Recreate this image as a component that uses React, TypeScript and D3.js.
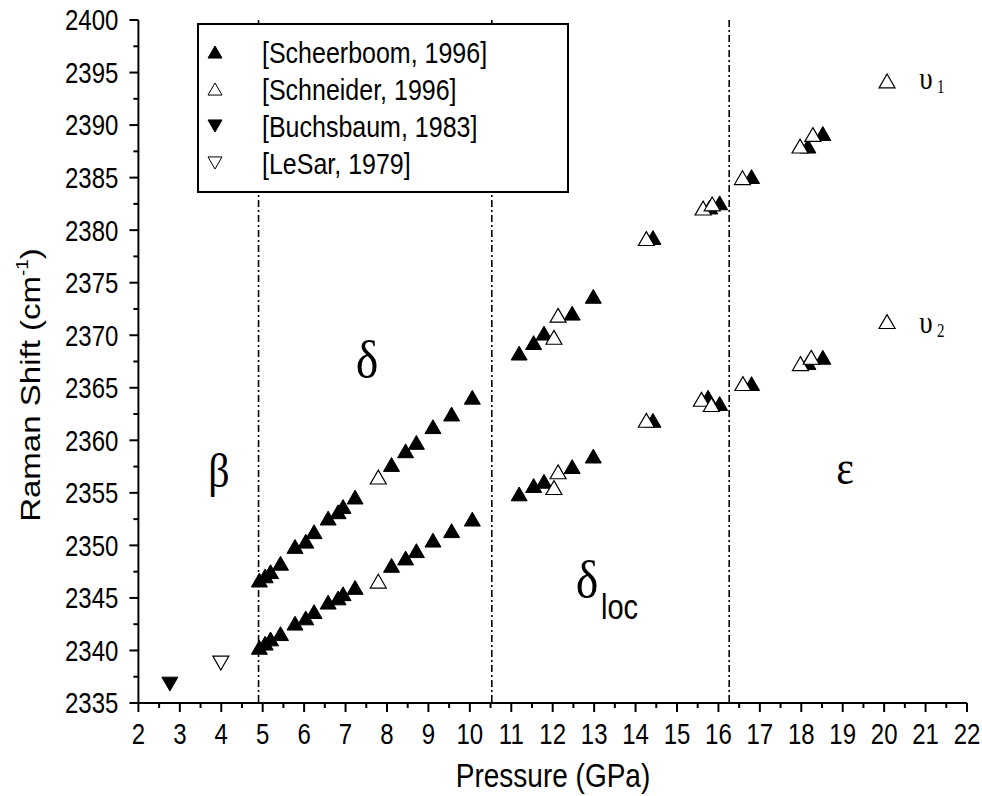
import React from "react";
import * as d3 from "d3";

// Scheerboom, 1996 (filled up-triangles)
const scheerX = [
  4.92, 5.06, 5.19, 5.43, 5.78, 6.04, 6.24, 6.58, 6.82, 6.94, 7.23, 8.11, 8.45, 8.71, 9.11, 9.56, 10.06,
  4.92, 5.06, 5.19, 5.43, 5.78, 6.04, 6.24, 6.58, 6.82, 6.94, 7.23, 8.11, 8.45, 8.71, 9.11, 9.56, 10.06,
  11.19, 11.54, 11.79, 12.47, 12.98,
  11.19, 11.54, 11.79, 12.47, 12.98,
  14.42, 15.79, 16.03, 16.8, 18.16, 18.52,
  14.42, 15.75, 16.03, 16.8, 18.16, 18.52,
];
const scheerY = [
  2346.7, 2347.1, 2347.5, 2348.3, 2349.9, 2350.4, 2351.3, 2352.6, 2353.2, 2353.7, 2354.6, 2357.7, 2359.0, 2359.8, 2361.3, 2362.5, 2364.1,
  2340.3, 2340.7, 2341.1, 2341.6, 2342.6, 2343.1, 2343.7, 2344.6, 2345.0, 2345.4, 2346.0, 2348.1, 2348.8, 2349.5, 2350.5, 2351.4, 2352.5,
  2368.3, 2369.3, 2370.2, 2372.1, 2373.7,
  2354.9, 2355.7, 2356.1, 2357.5, 2358.5,
  2379.3, 2382.2, 2382.6, 2385.1, 2388.0, 2389.2,
  2361.9, 2364.1, 2363.5, 2365.4, 2367.4, 2367.9,
];

// Schneider, 1996 (open up-triangles)
const schneiderX = [
  7.79, 7.79,
  12.03, 12.13, 12.03, 12.13,
  14.26, 15.63, 15.85, 16.58, 17.97, 18.28, 20.07,
  14.26, 15.59, 15.83, 16.59, 17.98, 18.24, 20.07,
];
const schneiderY = [
  2356.5, 2346.6,
  2369.8, 2371.9, 2355.5, 2357.0,
  2379.2, 2382.1, 2382.5, 2385.0, 2388.0, 2389.1, 2394.2,
  2361.9, 2363.9, 2363.4, 2365.4, 2367.3, 2367.9, 2371.3,
];

// Buchsbaum, 1983 (filled down-triangle)
const buchsX = [2.76];
const buchsY = [2336.8];

// LeSar, 1979 (open down-triangle)
const lesarX = [3.99];
const lesarY = [2338.8];

// phase boundaries (GPa)
const boundaries = [4.9, 10.53, 16.26];

const xTicks = d3.range(2, 23, 1);
const xMinor = d3.range(2.5, 22, 1);
const yTicks = d3.range(2335, 2401, 5);
const yMinor = d3.range(2337.5, 2400, 5);

const legendLabels = [
  "[Scheerboom, 1996]",
  "[Schneider, 1996]",
  "[Buchsbaum, 1983]",
  "[LeSar, 1979]",
];

const W = 982;
const H = 796;
const L = 138.4;
const R = 967;
const T = 20;
const B = 703;
const STRETCH = 1.2;

const SANS = "Arial, 'Liberation Sans', sans-serif";
const SERIF = "'Times New Roman', 'Liberation Serif', serif";

function triPath(size: number, down: boolean) {
  // triangle centred on its bounding box
  const w = size;
  const h = (size * Math.sqrt(3)) / 2;
  const p = d3.path();
  if (!down) {
    p.moveTo(0, -h / 2);
    p.lineTo(w / 2, h / 2);
    p.lineTo(-w / 2, h / 2);
  } else {
    p.moveTo(0, h / 2);
    p.lineTo(w / 2, -h / 2);
    p.lineTo(-w / 2, -h / 2);
  }
  p.closePath();
  return p.toString();
}

function Txt(props: {
  x: number;
  y: number;
  size: number;
  anchor?: string;
  family?: string;
  sy?: number;
  children: React.ReactNode;
}) {
  const { x, y, size, anchor = "start", family = SANS, sy = STRETCH, children } = props;
  return (
    <text
      transform={`translate(${x},${y}) scale(1,${sy})`}
      dy="0.36em"
      textAnchor={anchor}
      fontFamily={family}
      fontSize={size}
    >
      {children}
    </text>
  );
}

export default function App() {
  const x = d3.scaleLinear().domain([2, 22]).range([L, R]);
  const y = d3.scaleLinear().domain([2335, 2400]).range([B, T]);

  const up = triPath(16, false);
  const down = triPath(16, true);
  const upL = triPath(14, false);
  const downL = triPath(14, true);

  const legendRows = [52, 89, 126, 163];
  const legendMarks = [
    { d: upL, fill: "#000" },
    { d: upL, fill: "#fff" },
    { d: downL, fill: "#000" },
    { d: downL, fill: "#fff" },
  ];

  return (
    <svg
      width={W}
      height={H}
      viewBox={`0 0 ${W} ${H}`}
      style={{ position: "absolute", left: 0, top: 0, background: "#fff" }}
    >
      <rect x={0} y={0} width={W} height={H} fill="#fff" />

      {/* phase boundaries */}
      {boundaries.map((b, i) => (
        <line
          key={"b" + i}
          x1={x(b)}
          x2={x(b)}
          y1={T}
          y2={B}
          stroke="#000"
          strokeWidth={1.6}
          strokeDasharray="7,3,2,3"
        />
      ))}

      {/* axes */}
      <line x1={L} x2={L} y1={T} y2={B + 1} stroke="#000" strokeWidth={2} />
      <line x1={L - 1} x2={R} y1={B} y2={B} stroke="#000" strokeWidth={2} />
      {yTicks.map((t) => (
        <g key={"yt" + t}>
          <line x1={L - 9} x2={L} y1={y(t)} y2={y(t)} stroke="#000" strokeWidth={2} />
          <Txt x={L - 20} y={y(t)} size={24} anchor="end">
            {t}
          </Txt>
        </g>
      ))}
      {yMinor.map((t) => (
        <line key={"ym" + t} x1={L - 5} x2={L} y1={y(t)} y2={y(t)} stroke="#000" strokeWidth={2} />
      ))}
      {xTicks.map((t) => (
        <g key={"xt" + t}>
          <line x1={x(t)} x2={x(t)} y1={B} y2={B + 9} stroke="#000" strokeWidth={2} />
          <Txt x={x(t)} y={B + 31} size={24} anchor="middle">
            {t}
          </Txt>
        </g>
      ))}
      {xMinor.map((t) => (
        <line key={"xm" + t} x1={x(t)} x2={x(t)} y1={B} y2={B + 5} stroke="#000" strokeWidth={2} />
      ))}

      {/* axis titles */}
      <Txt x={553} y={775} size={28} anchor="middle" sy={1.18}>
        Pressure (GPa)
      </Txt>
      <text
        transform={`translate(30,385) rotate(-90) scale(1.18,1)`}
        dy="0.36em"
        textAnchor="middle"
        fontFamily={SANS}
        fontSize={28}
      >
        Raman Shift (cm
        <tspan fontSize={16} dy="-12">-1</tspan>
        <tspan dy="12">)</tspan>
      </text>

      {/* data */}
      {scheerX.map((v, i) => (
        <path
          key={"s" + i}
          d={up}
          transform={`translate(${x(v)},${y(scheerY[i])})`}
          fill="#000"
          stroke="#000"
          strokeWidth={1}
        />
      ))}
      {schneiderX.map((v, i) => (
        <path
          key={"n" + i}
          d={up}
          transform={`translate(${x(v)},${y(schneiderY[i])})`}
          fill="#fff"
          stroke="#000"
          strokeWidth={1.2}
        />
      ))}
      {buchsX.map((v, i) => (
        <path
          key={"bu" + i}
          d={down}
          transform={`translate(${x(v)},${y(buchsY[i])})`}
          fill="#000"
          stroke="#000"
          strokeWidth={1}
        />
      ))}
      {lesarX.map((v, i) => (
        <path
          key={"l" + i}
          d={down}
          transform={`translate(${x(v)},${y(lesarY[i])})`}
          fill="#fff"
          stroke="#000"
          strokeWidth={1.2}
        />
      ))}

      {/* phase labels */}
      <Txt x={219} y={470} size={42} anchor="middle" family={SERIF} sy={1.15}>
        β
      </Txt>
      <Txt x={367} y={358} size={48} anchor="middle" family={SERIF} sy={1.1}>
        δ
      </Txt>
      <Txt x={587} y={578} size={48} anchor="middle" family={SERIF} sy={1.1}>
        δ
      </Txt>
      <Txt x={601} y={606} size={29} family={SANS}>
        loc
      </Txt>
      <Txt x={845} y={467} size={42} anchor="middle" family={SERIF} sy={1.15}>
        ε
      </Txt>
      <Txt x={926} y={77} size={27} anchor="middle" family={SERIF}>
        υ
      </Txt>
      <Txt x={937} y={87} size={15} family={SERIF}>
        1
      </Txt>
      <Txt x={926} y={321} size={27} anchor="middle" family={SERIF}>
        υ
      </Txt>
      <Txt x={937} y={331} size={15} family={SERIF}>
        2
      </Txt>

      {/* legend */}
      <rect x={198} y={24} width={370} height={168} fill="#fff" stroke="#000" strokeWidth={2} />
      {legendLabels.map((lab, i) => (
        <g key={"lg" + i}>
          <path
            d={legendMarks[i].d}
            transform={`translate(215,${legendRows[i]})`}
            fill={legendMarks[i].fill}
            stroke="#000"
            strokeWidth={1}
          />
          <Txt x={262} y={legendRows[i]} size={25}>
            {lab}
          </Txt>
        </g>
      ))}
    </svg>
  );
}
